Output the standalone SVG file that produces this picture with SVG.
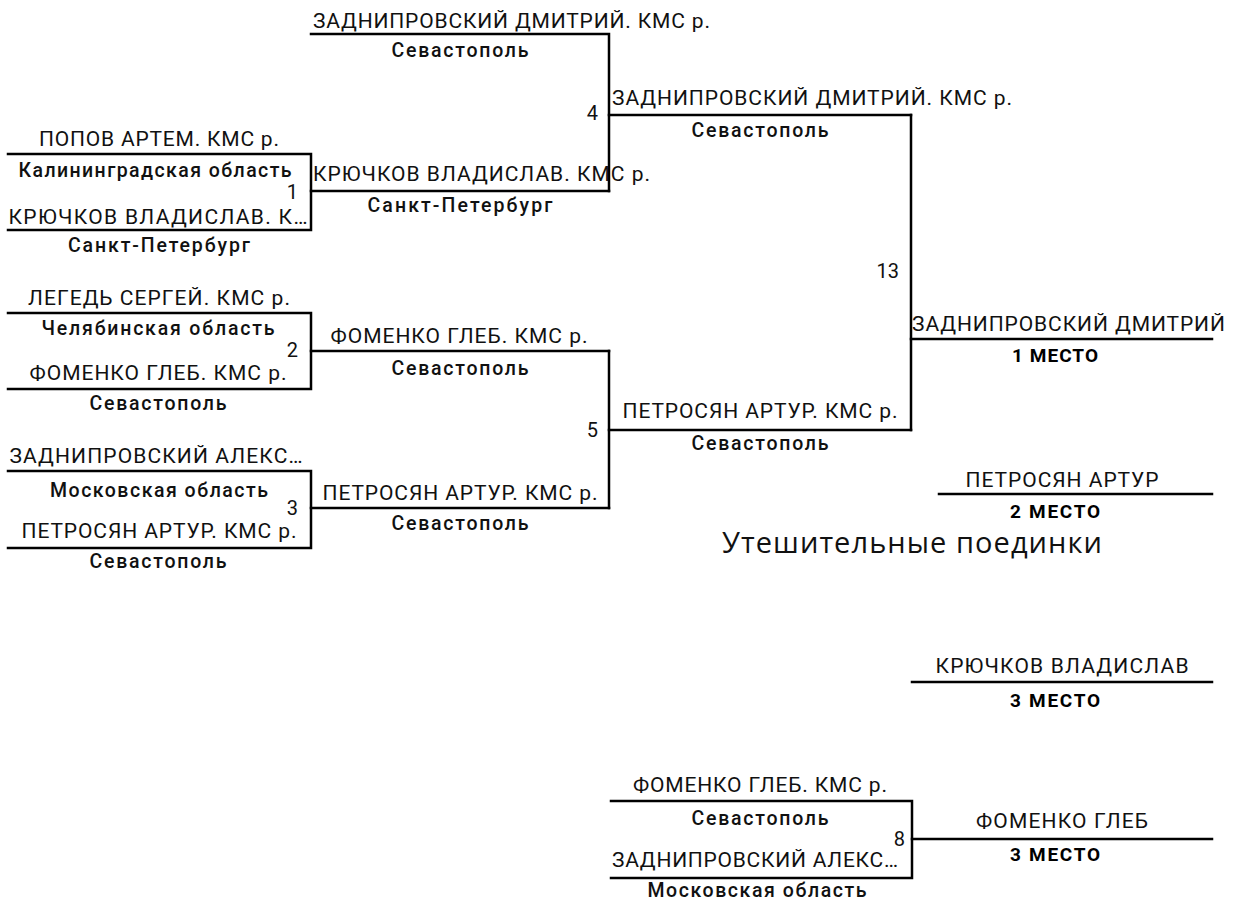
<svg xmlns="http://www.w3.org/2000/svg" width="1246" height="906" viewBox="0 0 1246 906">
<style>
.ln{stroke:#000;stroke-width:2.5;fill:none;stroke-linecap:square}
.nm{font-family:Roboto,"Liberation Sans",sans-serif;font-size:21px;fill:#111;text-anchor:middle}
.st{text-anchor:start}
.rg{font-family:Roboto,"Liberation Sans",sans-serif;font-size:19.5px;font-weight:500;fill:#111;text-anchor:middle}
.no{font-family:Roboto,"Liberation Sans",sans-serif;font-size:20px;fill:#111;text-anchor:end}
.pl{font-family:Roboto,"Liberation Sans",sans-serif;font-size:19px;font-weight:700;fill:#000;text-anchor:middle}
.ttl{font-family:"Open Sans","Liberation Sans",sans-serif;font-size:29px;fill:#111}
</style>
<rect width="1246" height="906" fill="#fff"/>
<g id="connectors">
<path class="ln" d="M311 191H609"/>
<path class="ln" d="M311 351H609"/>
<path class="ln" d="M311 508H609"/>
<path class="ln" d="M609 115H911"/>
<path class="ln" d="M609 430H911"/>
<path class="ln" d="M911 339H1212"/>
<path class="ln" d="M912 839H1212"/>
</g>
<g id="match1">
<path class="ln" d="M8 154H311V230H8"/>
<text class="nm" x="159" y="146" textLength="240" lengthAdjust="spacing">ПОПОВ АРТЕМ. КМС р.</text>
<text class="rg" x="155" y="177" textLength="273" lengthAdjust="spacing">Калининградская область</text>
<text class="no" x="298" y="199">1</text>
<text class="nm" x="158" y="224" textLength="299" lengthAdjust="spacing">КРЮЧКОВ ВЛАДИСЛАВ. К…</text>
<text class="rg" x="159" y="252" textLength="182" lengthAdjust="spacing">Санкт-Петербург</text>
</g>
<g id="match2">
<path class="ln" d="M8 313H311V389H8"/>
<text class="nm" x="159" y="305" textLength="262" lengthAdjust="spacing">ЛЕГЕДЬ СЕРГЕЙ. КМС р.</text>
<text class="rg" x="158" y="335" textLength="233" lengthAdjust="spacing">Челябинская область</text>
<text class="no" x="298" y="357">2</text>
<text class="nm" x="158" y="380" textLength="257" lengthAdjust="spacing">ФОМЕНКО ГЛЕБ. КМС р.</text>
<text class="rg" x="158" y="410" textLength="137" lengthAdjust="spacing">Севастополь</text>
</g>
<g id="match3">
<path class="ln" d="M8 471H311V548H8"/>
<text class="nm" x="156" y="463" textLength="293" lengthAdjust="spacing">ЗАДНИПРОВСКИЙ АЛЕКС…</text>
<text class="rg" x="159" y="497" textLength="218" lengthAdjust="spacing">Московская область</text>
<text class="no" x="298" y="515">3</text>
<text class="nm" x="159" y="538" textLength="275" lengthAdjust="spacing">ПЕТРОСЯН АРТУР. КМС р.</text>
<text class="rg" x="158" y="568" textLength="137" lengthAdjust="spacing">Севастополь</text>
</g>
<g id="match4">
<path class="ln" d="M311 34H609V191"/>
<text class="nm st" x="313" y="28" textLength="397" lengthAdjust="spacing">ЗАДНИПРОВСКИЙ ДМИТРИЙ. КМС р.</text>
<text class="rg" x="460" y="57" textLength="137" lengthAdjust="spacing">Севастополь</text>
<text class="no" x="598" y="120">4</text>
<text class="nm st" x="313" y="181" textLength="337" lengthAdjust="spacing">КРЮЧКОВ ВЛАДИСЛАВ. КМС р.</text>
<text class="rg" x="460" y="212" textLength="185" lengthAdjust="spacing">Санкт-Петербург</text>
</g>
<g id="match5">
<path class="ln" d="M609 351V508"/>
<text class="nm" x="459" y="343" textLength="257" lengthAdjust="spacing">ФОМЕНКО ГЛЕБ. КМС р.</text>
<text class="rg" x="460" y="375" textLength="137" lengthAdjust="spacing">Севастополь</text>
<text class="no" x="598" y="437">5</text>
<text class="nm" x="460" y="500" textLength="275" lengthAdjust="spacing">ПЕТРОСЯН АРТУР. КМС р.</text>
<text class="rg" x="460" y="530" textLength="137" lengthAdjust="spacing">Севастополь</text>
</g>
<g id="match13">
<path class="ln" d="M911 115V430"/>
<text class="nm st" x="612" y="105" textLength="400" lengthAdjust="spacing">ЗАДНИПРОВСКИЙ ДМИТРИЙ. КМС р.</text>
<text class="rg" x="760" y="137" textLength="137" lengthAdjust="spacing">Севастополь</text>
<text class="no" x="899" y="278">13</text>
<text class="nm" x="760" y="418" textLength="275" lengthAdjust="spacing">ПЕТРОСЯН АРТУР. КМС р.</text>
<text class="rg" x="760" y="450" textLength="137" lengthAdjust="spacing">Севастополь</text>
</g>
<g id="place1">
<text class="nm st" x="912" y="331" textLength="313" lengthAdjust="spacing">ЗАДНИПРОВСКИЙ ДМИТРИЙ</text>
<text class="pl" x="1055" y="362" textLength="86" lengthAdjust="spacing">1 МЕСТО</text>
</g>
<g id="place2">
<path class="ln" d="M939 494H1212"/>
<text class="nm" x="1062" y="487" textLength="193" lengthAdjust="spacing">ПЕТРОСЯН АРТУР</text>
<text class="pl" x="1055" y="518" textLength="90" lengthAdjust="spacing">2 МЕСТО</text>
</g>
<g id="title">
<text class="ttl" x="722" y="553" textLength="380" lengthAdjust="spacing">Утешительные поединки</text>
</g>
<g id="place3a">
<path class="ln" d="M912 682H1212"/>
<text class="nm" x="1062" y="673" textLength="253" lengthAdjust="spacing">КРЮЧКОВ ВЛАДИСЛАВ</text>
<text class="pl" x="1055" y="707" textLength="90" lengthAdjust="spacing">3 МЕСТО</text>
</g>
<g id="match8">
<path class="ln" d="M611 801H912V878H611"/>
<text class="nm" x="760" y="792" textLength="254" lengthAdjust="spacing">ФОМЕНКО ГЛЕБ. КМС р.</text>
<text class="rg" x="760" y="825" textLength="137" lengthAdjust="spacing">Севастополь</text>
<text class="no" x="905" y="846">8</text>
<text class="nm" x="755" y="867" textLength="286" lengthAdjust="spacing">ЗАДНИПРОВСКИЙ АЛЕКС…</text>
<text class="rg" x="757" y="897" textLength="219" lengthAdjust="spacing">Московская область</text>
</g>
<g id="place3b">
<text class="nm" x="1062" y="828" textLength="172" lengthAdjust="spacing">ФОМЕНКО ГЛЕБ</text>
<text class="pl" x="1055" y="861" textLength="90" lengthAdjust="spacing">3 МЕСТО</text>
</g>
</svg>
